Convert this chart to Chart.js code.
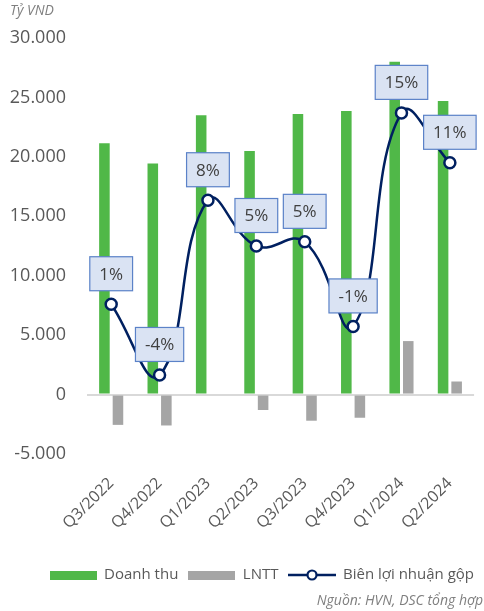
<!DOCTYPE html>
<html>
<head>
<meta charset="utf-8">
<script src="https://cdn.jsdelivr.net/npm/chart.js@4/dist/chart.umd.min.js"></script>
<style>
  html, body { margin: 0; padding: 0; background: #ffffff; }
  #wrap { position: relative; width: 484px; height: 611px; }
</style>
</head>
<body>
<div id="wrap"><canvas id="c" width="484" height="611"></canvas></div>
<script>
// ---- Data ----
const categories = ["Q3/2022", "Q4/2022", "Q1/2023", "Q2/2023", "Q3/2023", "Q4/2023", "Q1/2024", "Q2/2024"];
const doanhThu = [21150, 19450, 23500, 20500, 23600, 23850, 28000, 24700];
const lntt = [-2550, -2600, 0, -1300, -2200, -1950, 4500, 1100];
const bienLoiNhuanGop = [0.8, -4.3, 8.3, 5.0, 5.3, -0.8, 14.6, 11.0];
const yTicks = [-5000, 0, 5000, 10000, 15000, 20000, 25000, 30000];
const seriesNames = ["Doanh thu", "LNTT", "Biên lợi nhuận gộp"];
const unitLabel = "Tỷ VND";
const sourceLabel = "Nguồn: HVN, DSC tổng hợp";

const GREEN = "#50b848";
const GREY = "#a5a5a5";
const NAVY = "#002060";
const FONT = "'Open Sans', 'Noto Sans', sans-serif";

function fmt(v) {
  const s = Math.abs(v).toString().replace(/\B(?=(\d{3})+(?!\d))/g, ".");
  return (v < 0 ? "-" : "") + s;
}

// legend images
function rectImg(color) {
  const c = document.createElement("canvas");
  c.width = 47; c.height = 9;
  const x = c.getContext("2d");
  x.fillStyle = color; x.fillRect(0, 0, 47, 9);
  return c;
}
function lineImg() {
  const c = document.createElement("canvas");
  c.width = 48; c.height = 14;
  const x = c.getContext("2d");
  x.strokeStyle = NAVY; x.lineWidth = 2.5;
  x.beginPath(); x.moveTo(0, 7); x.lineTo(48, 7); x.stroke();
  x.beginPath(); x.arc(24, 7, 4.5, 0, Math.PI * 2);
  x.fillStyle = "#ffffff"; x.fill(); x.lineWidth = 2.2; x.stroke();
  return c;
}
const legendImgs = [rectImg(GREEN), rectImg(GREY), lineImg()];

// Data label boxes + extra texts
const decor = {
  id: "decor",
  afterDatasetsDraw(chart) {
    const ctx = chart.ctx;
    const meta = chart.getDatasetMeta(2);
    ctx.save();
    ctx.font = "17px " + FONT;
    ctx.textAlign = "center";
    ctx.textBaseline = "middle";
    meta.data.forEach((pt, i) => {
      const txt = Math.round(bienLoiNhuanGop[i]) + "%";
      const w = ctx.measureText(txt).width + 19;
      const h = 34;
      const cx = pt.x;
      const bottom = pt.y - 13.5;
      const left = cx - w / 2;
      const top = bottom - h;
      ctx.fillStyle = "#dae3f3";
      ctx.fillRect(left, top, w, h);
      ctx.strokeStyle = "#5b82c8";
      ctx.lineWidth = 1.2;
      ctx.strokeRect(left, top, w, h);
      ctx.fillStyle = "#404040";
      ctx.fillText(txt, cx, top + h / 2 + 1);
    });
    ctx.restore();
  },
  afterDraw(chart) {
    const ctx = chart.ctx;
    ctx.save();
    ctx.fillStyle = "#7f7f7f";
    ctx.font = "italic 14px " + FONT;
    ctx.textBaseline = "middle";
    ctx.textAlign = "left";
    ctx.fillText(unitLabel, 10, 11);
    ctx.textAlign = "right";
    ctx.fillText(sourceLabel, 483, 601);
    ctx.restore();
  }
};

new Chart(document.getElementById("c"), {
  type: "bar",
  data: {
    labels: categories,
    datasets: [
      { label: seriesNames[0], data: doanhThu, backgroundColor: GREEN, yAxisID: "y", order: 2,
        categoryPercentage: 0.56, barPercentage: 0.78 },
      { label: seriesNames[1], data: lntt, backgroundColor: GREY, yAxisID: "y", order: 2,
        categoryPercentage: 0.56, barPercentage: 0.78 },
      { type: "line", label: seriesNames[2], data: bienLoiNhuanGop, yAxisID: "y1", order: 0,
        borderColor: NAVY, borderWidth: 2.5, tension: 0.45, fill: false,
        pointRadius: 5.5, pointBorderWidth: 2.5, pointBackgroundColor: "#ffffff", pointBorderColor: NAVY }
    ]
  },
  options: {
    responsive: false,
    animation: false,
    layout: { padding: { top: 38, left: 0, right: 0, bottom: 18.5 } },
    plugins: {
      tooltip: { enabled: false },
      title: { display: false },
      legend: {
        position: "bottom",
        align: "end",
        labels: {
          usePointStyle: true,
          pointStyleWidth: 47,
          boxHeight: 9,
          padding: 10,
          color: "#595959",
          font: { family: FONT, size: 15 },
          generateLabels() {
            return seriesNames.map((n, i) => ({
              text: n, pointStyle: legendImgs[i], datasetIndex: i,
              fillStyle: "transparent", strokeStyle: "transparent", lineWidth: 0, hidden: false, fontColor: "#595959"
            }));
          }
        }
      }
    },
    scales: {
      x: {
        offset: true,
        grid: { display: false, drawTicks: false },
        border: { display: false },
        ticks: { minRotation: 45, maxRotation: 45, padding: 20, color: "#595959",
                 font: { family: FONT, size: 16 }, autoSkip: false },
        afterFit(s) { s.height = 103.5; }
      },
      y: {
        position: "left",
        min: -5000, max: 30000,
        grid: {
          drawTicks: false,
          color: (c) => c.tick && c.tick.value === 0 ? "#d9d9d9" : "rgba(0,0,0,0)",
          lineWidth: (c) => c.tick && c.tick.value === 0 ? 2 : 0
        },
        border: { display: false },
        afterBuildTicks(s) { s.ticks = yTicks.map(v => ({ value: v })); },
        ticks: { padding: 21, color: "#595959", font: { family: FONT, size: 18 },
                 callback: (v) => fmt(v) },
        afterFit(s) { s.width = 87; }
      },
      y1: {
        position: "right",
        min: -10, max: 20,
        grid: { display: false, drawTicks: false },
        border: { display: false },
        ticks: { display: false },
        afterFit(s) { s.width = 9; }
      }
    }
  },
  plugins: [decor]
});
</script>
</body>
</html>
